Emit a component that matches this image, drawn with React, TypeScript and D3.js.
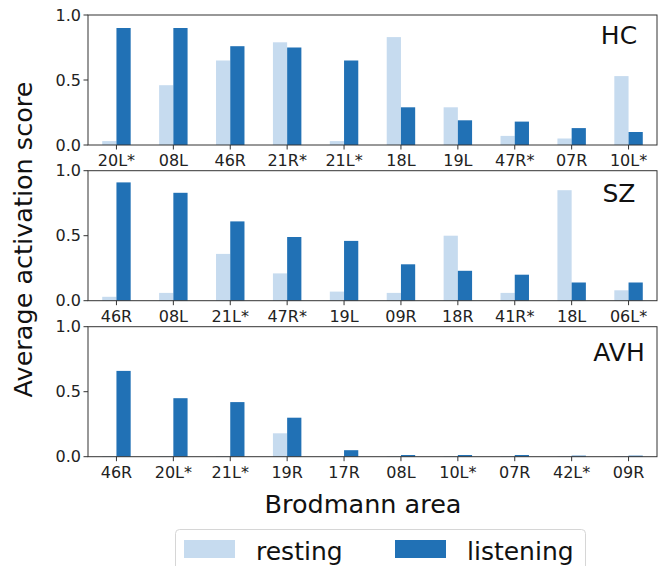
import React from "react";
import { scaleBand, scaleLinear } from "d3";

// panel data
const hcAreas = ["20L*", "08L", "46R", "21R*", "21L*", "18L", "19L", "47R*", "07R", "10L*"];
const hcResting = [0.03, 0.46, 0.65, 0.79, 0.03, 0.83, 0.29, 0.07, 0.05, 0.53];
const hcListening = [0.9, 0.9, 0.76, 0.75, 0.65, 0.29, 0.19, 0.18, 0.13, 0.1];

const szAreas = ["46R", "08L", "21L*", "47R*", "19L", "09R", "18R", "41R*", "18L", "06L*"];
const szResting = [0.03, 0.06, 0.36, 0.21, 0.07, 0.06, 0.5, 0.06, 0.85, 0.08];
const szListening = [0.91, 0.83, 0.61, 0.49, 0.46, 0.28, 0.23, 0.2, 0.14, 0.14];

const avhAreas = ["46R", "20L*", "21L*", "19R", "17R", "08L", "10L*", "07R", "42L*", "09R"];
const avhResting = [0.005, 0.005, 0.005, 0.18, 0.005, 0.005, 0.005, 0.005, 0.004, 0.004];
const avhListening = [0.66, 0.45, 0.42, 0.3, 0.05, 0.013, 0.013, 0.013, 0.008, 0.008];

const yTicks = [0, 0.5, 1];

const RESTING = "#c6dbef";
const LISTENING = "#2171b5";
const FONT = "DejaVu Sans, sans-serif";

const left = 88;
const right = 657;
const panelH = 130;

const panels = [
  { name: "HC", top: 15, areas: hcAreas, resting: hcResting, listening: hcListening, nameY: 44 },
  { name: "SZ", top: 170.7, areas: szAreas, resting: szResting, listening: szListening, nameY: 202 },
  { name: "AVH", top: 326.7, areas: avhAreas, resting: avhResting, listening: avhListening, nameY: 361 },
];

const Panel = ({ p }: { p: (typeof panels)[number] }) => {
  const x = scaleBand<string>()
    .domain(p.areas.map((_, i) => String(i)))
    .range([left, right])
    .padding(0);
  const y = scaleLinear().domain([0, 1]).range([p.top + panelH, p.top]);
  const bw = x.bandwidth() * 0.25;
  const cx = (i: number) => (x(String(i)) as number) + x.bandwidth() / 2;

  return (
    <g>
      {p.areas.map((a, i) => (
        <g key={a + i}>
          <rect x={cx(i) - bw} y={y(p.resting[i])} width={bw} height={y(0) - y(p.resting[i])} fill={RESTING} />
          <rect x={cx(i)} y={y(p.listening[i])} width={bw} height={y(0) - y(p.listening[i])} fill={LISTENING} />
          <line x1={cx(i)} x2={cx(i)} y1={y(0)} y2={y(0) + 4.5} stroke="#333" strokeWidth={1} />
          <text x={cx(i)} y={y(0) + 21} textAnchor="middle" fontSize={16} fontFamily={FONT} fill="#222">
            {a}
          </text>
        </g>
      ))}
      {yTicks.map((t) => (
        <g key={t}>
          <line x1={left - 4.5} x2={left} y1={y(t)} y2={y(t)} stroke="#333" strokeWidth={1} />
          <text x={left - 7} y={y(t)} dy="0.35em" textAnchor="end" fontSize={16} fontFamily={FONT} fill="#222">
            {t.toFixed(1)}
          </text>
        </g>
      ))}
      <rect x={left} y={p.top} width={right - left} height={panelH} fill="none" stroke="#333" strokeWidth={1} />
      <text x={619} y={p.nameY} textAnchor="middle" fontSize={25} fontFamily={FONT} fill="#111">
        {p.name}
      </text>
    </g>
  );
};

export default function App() {
  return (
    <svg
      width={659}
      height={566}
      style={{ position: "absolute", left: 0, top: 0, display: "block", background: "#fff" }}
    >
      {panels.map((p) => (
        <Panel key={p.name} p={p} />
      ))}
      <text
        transform="translate(32,239.5) rotate(-90)"
        textAnchor="middle"
        fontSize={25.5}
        fontFamily={FONT}
        fill="#111"
      >
        Average activation score
      </text>
      <text x={363} y={513} textAnchor="middle" fontSize={25.5} fontFamily={FONT} fill="#111">
        Brodmann area
      </text>
      <rect x={175.5} y={529.5} width={410} height={60} rx={4} fill="#fff" stroke="#d6d6d6" strokeWidth={1} />
      <rect x={184} y={540} width={51} height={18} fill={RESTING} />
      <text x={256} y={560} fontSize={25} fontFamily={FONT} fill="#111">
        resting
      </text>
      <rect x={395} y={540} width={51} height={18} fill={LISTENING} />
      <text x={467} y={560} fontSize={25} fontFamily={FONT} fill="#111">
        listening
      </text>
    </svg>
  );
}
